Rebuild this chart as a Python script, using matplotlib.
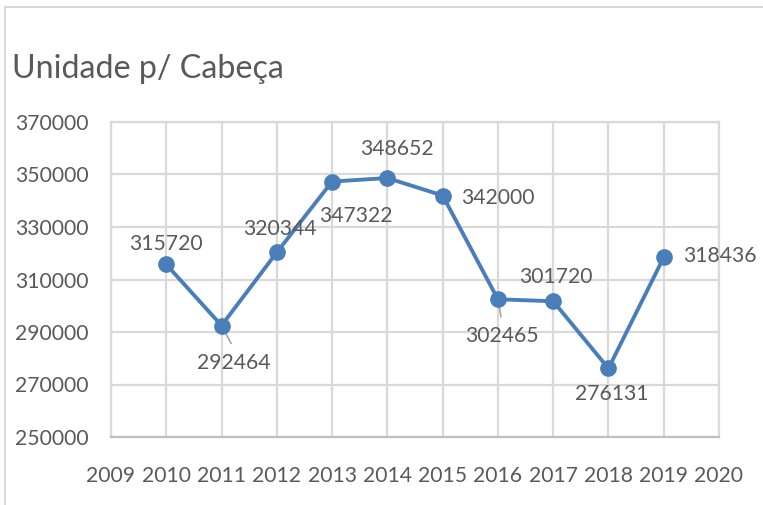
import matplotlib
matplotlib.use("Agg")
import matplotlib.pyplot as plt
from matplotlib.lines import Line2D

years = [2010, 2011, 2012, 2013, 2014, 2015, 2016, 2017, 2018, 2019]
values = [315720, 292464, 320344, 347322, 348652, 342000, 302465, 301720, 276131, 318436]
x_ticks = list(range(2009, 2021))
y_ticks = list(range(250000, 370001, 20000))
title = "Unidade p/ Cabeça"

# label offsets in pixels (dx, dy)
offsets = [(0, 20), (12, -37), (3, 23), (24, -34), (10, 29), (55, -2), (4, -37), (3, 24), (3, -26), (56, 1)]
leaders = {1: True, 6: True}

plt.rcParams['font.family'] = ['Lato', 'DejaVu Sans']
TXT = '#595959'
GRID = '#D9D9D9'
LINE = '#4A7EBB'
FS = 15.2

fig = plt.figure(figsize=(7.63, 5.05), dpi=100)
ax = fig.add_axes([111/763, 1-437/505, (719-111)/763, (437-122)/505])

ax.plot(years, values, color=LINE, lw=2.8, marker='o', ms=11, mfc=LINE, mec=LINE, zorder=3)
ax.set_xlim(2009, 2020)
ax.set_ylim(250000, 370000)
ax.set_xticks(x_ticks)
ax.set_yticks(y_ticks)
ax.set_xticklabels([str(t) for t in x_ticks])
ax.set_yticklabels([str(t) for t in y_ticks])
ax.grid(True, color=GRID, lw=1.6, zorder=0)
ax.tick_params(length=0, labelsize=FS, colors=TXT)
ax.tick_params(axis='y', pad=16)
ax.tick_params(axis='x', pad=21)
for s in ax.spines.values():
    s.set_color(GRID)
    s.set_linewidth(1.6)
ax.spines['bottom'].set_color('#BFBFBF')

for i, (x, v) in enumerate(zip(years, values)):
    dx, dy = offsets[i]
    ax.annotate(str(v), (x, v), xytext=(dx, dy), textcoords='offset pixels',
                ha='center', va='center', fontsize=FS, color=TXT, zorder=4)
    if i in leaders:
        ax.annotate('', (x, v), xytext=(dx * 0.9, dy * 0.55), textcoords='offset pixels',
                    arrowprops=dict(arrowstyle='-', color='#A6A6A6', lw=1.2), zorder=2)

fig.text(12/763, 1-78/505, title, fontsize=23.2, color=TXT, ha='left', va='baseline')

# outer chart frame (left and top edges visible)
fig.add_artist(Line2D([5/763, 5/763], [0, 1-7/505], transform=fig.transFigure, color=GRID, lw=1.5))
fig.add_artist(Line2D([5/763, 1], [1-7/505, 1-7/505], transform=fig.transFigure, color=GRID, lw=1.5))

fig.savefig('out.png', dpi=100, facecolor='white')
